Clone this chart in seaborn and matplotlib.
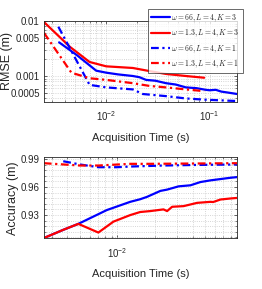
import numpy as np
import pandas as pd
import seaborn as sns
import matplotlib.pyplot as plt
from matplotlib.ticker import FixedLocator, FixedFormatter, LogLocator, NullFormatter, MultipleLocator

# ---- RMSE panel (top) ----
top_t_b3 = [0.0035, 0.0052, 0.008, 0.01, 0.013, 0.0181, 0.021, 0.0243, 0.03, 0.0379, 0.047, 0.059, 0.075, 0.092, 0.1, 0.115, 0.13, 0.15, 0.185]
top_y_b3 = [0.0041, 0.0024, 0.00125, 0.00115, 0.00107, 0.001, 0.00095, 0.00085, 0.00082, 0.00074, 0.0007, 0.00062, 0.0006, 0.00056, 0.00055, 0.00056, 0.00052, 0.0005, 0.00047]

top_t_r3 = [0.0025, 0.00445, 0.0069, 0.01, 0.0181, 0.0262, 0.0379, 0.059, 0.0887]
top_y_r3 = [0.0096, 0.0034, 0.0018, 0.0015, 0.0014, 0.00123, 0.00109, 0.001, 0.00093]

top_t_b1 = [0.00344, 0.0069, 0.01, 0.0181, 0.0226, 0.0379, 0.059, 0.092, 0.185]
top_y_b1 = [0.0079, 0.00069, 0.00062, 0.00057, 0.00047, 0.00043, 0.00039, 0.00037, 0.00035]

top_t_r1 = [0.0025, 0.0046, 0.0069, 0.01, 0.0181, 0.0262, 0.0379, 0.059, 0.0887]
top_y_r1 = [0.0061, 0.00115, 0.00091, 0.00085, 0.00074, 0.00066, 0.00062, 0.00057, 0.00053]

# ---- Accuracy panel (bottom) ----
bot_t_b3 = [0.00259, 0.0037, 0.00488, 0.00824, 0.01265, 0.0152, 0.0172, 0.022, 0.0249, 0.0308, 0.0382, 0.0459, 0.0552, 0.0664, 0.0798, 0.0903]
bot_y_b3 = [0.9054, 0.9142, 0.9206, 0.9354, 0.9442, 0.9470, 0.9495, 0.9559, 0.9573, 0.9608, 0.9619, 0.9654, 0.9672, 0.9686, 0.970, 0.9707]

bot_t_r3 = [0.00259, 0.0037, 0.00488, 0.00705, 0.0093, 0.01265, 0.0152, 0.0183, 0.0233, 0.0249, 0.0273, 0.0337, 0.0432, 0.0552, 0.058, 0.0664, 0.0798, 0.0903]
bot_y_r3 = [0.9054, 0.9142, 0.9206, 0.9113, 0.923, 0.930, 0.9333, 0.9343, 0.9361, 0.9343, 0.9389, 0.9396, 0.9431, 0.9442, 0.9440, 0.9467, 0.9478, 0.9484]

bot_t_b1 = [0.0037, 0.00504, 0.00705, 0.0099, 0.01265, 0.0233, 0.0459, 0.0903]
bot_y_b1 = [0.9877, 0.9842, 0.9813, 0.9813, 0.982, 0.9831, 0.9838, 0.9842]

bot_t_r1 = [0.00259, 0.00504, 0.00705, 0.01265, 0.0172, 0.0459, 0.0903]
bot_y_r1 = [0.9856, 0.9831, 0.9831, 0.9849, 0.9849, 0.9853, 0.9856]

labels = [r'$\omega = 66, L = 4, K = 3$', r'$\omega = 1.3, L = 4, K = 3$',
          r'$\omega = 66, L = 4, K = 1$', r'$\omega = 1.3, L = 4, K = 1$']
colors = ['#0000ff', '#ff0000', '#0000ff', '#ff0000']
dashdot = (0, (3.5, 1.6, 1, 1.6))
styles = ['-', '-', dashdot, dashdot]

sns.set_theme(style="ticks")
plt.rcParams['font.family'] = ['Liberation Sans Narrow', 'Liberation Sans', 'DejaVu Sans']
plt.rcParams['mathtext.fontset'] = 'cm'

fig = plt.figure(figsize=(2.62, 2.89), dpi=100)
ax1 = fig.add_axes([0.168, 0.648, 0.737, 0.279])
ax2 = fig.add_axes([0.168, 0.175, 0.737, 0.281])

top_sets = [(top_t_b3, top_y_b3), (top_t_r3, top_y_r3), (top_t_b1, top_y_b1), (top_t_r1, top_y_r1)]
bot_sets = [(bot_t_b3, bot_y_b3), (bot_t_r3, bot_y_r3), (bot_t_b1, bot_y_b1), (bot_t_r1, bot_y_r1)]

for (t, y), lab, c, ls in zip(top_sets, labels, colors, styles):
    sns.lineplot(x=t, y=y, ax=ax1, color=c, linestyle=ls, lw=1.6, label=lab, legend=False)
for (t, y), c, ls in zip(bot_sets, colors, styles):
    sns.lineplot(x=t, y=y, ax=ax2, color=c, linestyle=ls, lw=1.6, legend=False)

ax1.set_xscale('log')
ax1.set_yscale('log')
ax1.set_xlim(0.0025, 0.185)
ax1.set_ylim(0.00034, 0.01)
ax1.yaxis.set_major_locator(FixedLocator([0.0005, 0.001, 0.005, 0.01]))
ax1.yaxis.set_major_formatter(FixedFormatter(['0.0005', '0.001', '0.005', '0.01']))
ax1.yaxis.set_minor_locator(LogLocator(base=10, subs=np.arange(2, 10)))
ax1.yaxis.set_minor_formatter(NullFormatter())
ax1.set_ylabel('RMSE (m)')

ax2.set_xscale('log')
ax2.set_xlim(0.0026, 0.09)
ax2.set_ylim(0.905, 0.992)
ax2.yaxis.set_major_locator(FixedLocator([0.93, 0.96, 0.99]))
ax2.yaxis.set_major_formatter(FixedFormatter(['0.93', '0.96', '0.99']))
ax2.yaxis.set_minor_locator(MultipleLocator(0.006))
ax2.set_ylabel('Accuracy (m)')

for ax in (ax1, ax2):
    ax.xaxis.set_minor_locator(LogLocator(base=10, subs=np.arange(2, 10)))
    ax.xaxis.set_minor_formatter(NullFormatter())
    ax.set_xlabel('Acquisition Time (s)')
    ax.grid(True, which='both', linestyle=':', color='#c8c8c8', lw=0.6)
    ax.tick_params(which='both', direction='in', top=True, right=True, labelsize=7,
                   color='#262626')
    ax.tick_params(axis='x', pad=5.5)
    ax.tick_params(axis='y', pad=3)
    ax.tick_params(which='major', length=2.5, width=0.5)
    ax.tick_params(which='minor', length=1.5, width=0.4)
    ax.xaxis.label.set_fontsize(8)
    ax.xaxis.label.set_va('center')
    ax.yaxis.label.set_fontsize(9)
    ax.yaxis.label.set_family(['Liberation Sans', 'DejaVu Sans'])
    ax.yaxis.label.set_va('center')
    for s in ax.spines.values():
        s.set_color('#262626')
        s.set_linewidth(0.6)

ax1.xaxis.set_label_coords(0.5, -0.45)
ax2.xaxis.set_label_coords(0.5, -0.44)
ax1.yaxis.set_label_coords(-0.19, 0.5)
ax2.yaxis.set_label_coords(-0.16, 0.5)

handles, labs = ax1.get_legend_handles_labels()
leg = fig.legend(handles, labs, loc='upper right', bbox_to_anchor=(0.927, 0.969),
                 fontsize=5.5, frameon=True, fancybox=False, edgecolor='#262626',
                 handlelength=2.4, handletextpad=0.2, borderpad=0.45, labelspacing=0.5,
                 borderaxespad=0)
leg.get_frame().set_linewidth(0.6)

plt.savefig('out.png', dpi=100)
